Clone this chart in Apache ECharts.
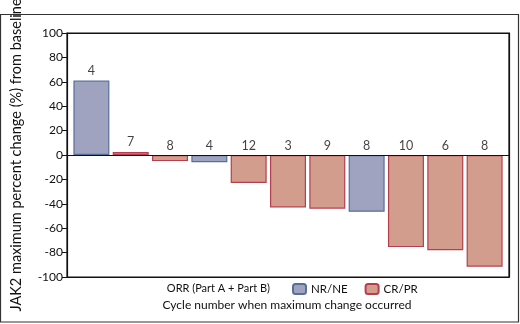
<!DOCTYPE html>
<html>
<head>
<meta charset="utf-8">
<script src="https://cdn.jsdelivr.net/npm/echarts@6/dist/echarts.min.js"></script>
<style>
  html, body { margin: 0; padding: 0; background: #fff; }
  #chart { width: 520px; height: 324px; }
</style>
</head>
<body>
<div id="chart"></div>
<script>
// patients in plot order
let changes = [61, 2.5, -5, -6, -23, -43, -44, -46.5, -75.5, -78, -91.5];
let cycles = ["4", "7", "8", "4", "12", "3", "9", "8", "10", "6", "8"];
let response = ["NR/NE", "CR/PR", "CR/PR", "NR/NE", "CR/PR", "CR/PR", "CR/PR", "NR/NE", "CR/PR", "CR/PR", "CR/PR"];
let groups = ["NR/NE", "CR/PR"];
let yTicks = [-100, -80, -60, -40, -20, 0, 20, 40, 60, 80, 100];

let fill = { "NR/NE": "#a0a3bf", "CR/PR": "#d39d8d" };
let edge = { "NR/NE": "#57709a", "CR/PR": "#b73e4e" };
let font = "Lato, 'Liberation Sans', sans-serif";
let ink = "#111";

// plain axis used only to close the plot frame
function frameAxis(position, min, max) {
    return {
        type: "value",
        position: position,
        min: min, max: max,
        axisLine: { show: true, onZero: false, lineStyle: { color: ink, width: 1.2 } },
        axisTick: { show: false },
        axisLabel: { show: false },
        splitLine: { show: false }
    };
}

document.addEventListener("DOMContentLoaded", function () {
    let chart = echarts.init(document.getElementById("chart"));

    let barSeries = groups.map(g => ({
        name: g,
        type: "bar",
        barWidth: 36,
        barGap: "-100%",
        data: changes.map((v, i) => response[i] === g ? [i, v] : [i, null]),
        itemStyle: { color: fill[g], borderColor: edge[g], borderWidth: 1.2 },
        emphasis: { disabled: true }
    }));
    // baseline at 0
    barSeries[0].markLine = {
        silent: true,
        symbol: ["none", "none"],
        label: { show: false },
        lineStyle: { color: ink, width: 1.2, type: "solid" },
        data: [{ yAxis: 0 }]
    };

    let option = {
        animation: false,
        textStyle: { fontFamily: font },
        graphic: [
            {
                type: "rect",
                shape: { x: 0.5, y: 14.5, width: 518, height: 307.5 },
                style: { fill: null, stroke: "#333", lineWidth: 1.2 },
                z: -1
            },
            {
                type: "text",
                x: 270, y: 288,
                style: { text: "ORR (Part A + Part B)", align: "right", verticalAlign: "middle", fontSize: 11, fill: ink, fontFamily: font }
            },
            {
                type: "text",
                x: 287, y: 305,
                style: { text: "Cycle number when maximum change occurred", align: "center", verticalAlign: "middle", fontSize: 12, fill: ink, fontFamily: font }
            }
        ],
        legend: {
            data: groups,
            left: 292, top: 283,
            padding: 0,
            itemWidth: 13, itemHeight: 10,
            itemGap: 17,
            textStyle: { fontSize: 11.5, color: ink, fontFamily: font }
        },
        grid: {
            left: 67, right: 11, top: 33, bottom: 47,
            outerBoundsMode: "none", containLabel: false,
            show: true, borderColor: ink, borderWidth: 1.2, backgroundColor: "rgba(0,0,0,0)"
        },
        xAxis: [
            frameAxis("bottom", -0.62, 10.62),
            frameAxis("top", 0, 1)
        ],
        yAxis: [
            {
                type: "value",
                min: yTicks[0], max: yTicks[yTicks.length - 1], interval: 20,
                name: "JAK2 maximum percent change (%) from baseline",
                nameLocation: "middle",
                nameGap: 43,
                nameTextStyle: { fontSize: 14.5, color: ink, fontFamily: font },
                axisLine: { show: true, onZero: false, lineStyle: { color: ink, width: 1.2 } },
                axisTick: { show: true, length: 5, lineStyle: { color: ink } },
                axisLabel: { fontSize: 12, color: ink, margin: 4 },
                splitLine: { show: false }
            },
            frameAxis("right", 0, 1)
        ],
        series: barSeries.concat([{
            type: "scatter",
            symbolSize: 0,
            silent: true,
            data: changes.map((v, i) => [i, Math.max(v, 0)]),
            label: {
                show: true,
                position: "top",
                distance: 3,
                fontSize: 12.5,
                color: ink,
                formatter: p => cycles[p.dataIndex]
            }
        }])
    };
    chart.setOption(option);
});
</script>
</body>
</html>
